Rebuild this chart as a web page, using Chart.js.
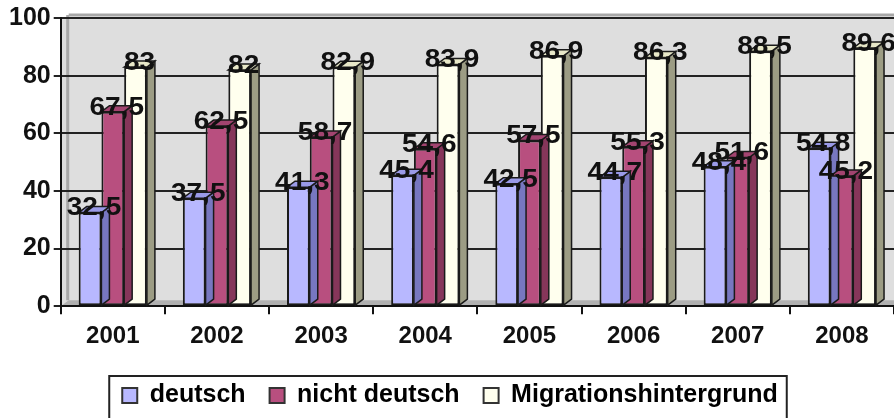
<!DOCTYPE html>
<html>
<head>
<meta charset="utf-8">
<script src="https://cdn.jsdelivr.net/npm/chart.js@4/dist/chart.umd.min.js"></script>
<style>
  html, body { margin: 0; padding: 0; background: #fff; overflow: hidden; }
  #wrap { width: 894px; height: 418px; }
</style>
</head>
<body>
<div id="wrap"><canvas id="myChart" width="894" height="418"></canvas></div>
<script>
const years = ["2001", "2002", "2003", "2004", "2005", "2006", "2007", "2008"];
const deutsch = [32.5, 37.5, 41.3, 45.4, 42.5, 44.7, 48.4, 54.8];
const nichtDeutsch = [67.5, 62.5, 58.7, 54.6, 57.5, 55.3, 51.6, 45.2];
const migration = [83, 82, 82.9, 83.9, 86.9, 86.3, 88.5, 89.6];
const yTicks = [0, 20, 40, 60, 80, 100];

const fontFam = "Arial, 'Liberation Sans', sans-serif";
const sideColors = ["#7777c0", "#86365a", "#9c9c84"];
const topColors = ["#9a9ae8", "#a24470", "#e8e8c8"];

// back wall + floor behind the bars
const wallPlugin = {
  id: "wall",
  beforeDraw(chart) {
    const { ctx, chartArea: a } = chart;
    ctx.save();
    ctx.fillStyle = "#dedede";
    ctx.fillRect(a.left, a.top, a.right - a.left, a.bottom - a.top);
    ctx.strokeStyle = "#a8a8a8";
    ctx.lineWidth = 3;
    ctx.beginPath();
    ctx.moveTo(a.left + 8, a.top - 3);
    ctx.lineTo(a.right, a.top - 3);
    ctx.moveTo(a.left + 7, a.top - 3);
    ctx.lineTo(a.left + 7, a.bottom - 6);
    ctx.stroke();
    ctx.fillStyle = "#b0b0b0";
    ctx.beginPath();
    ctx.moveTo(a.left, a.bottom);
    ctx.lineTo(a.left + 8, a.bottom - 6);
    ctx.lineTo(a.right, a.bottom - 6);
    ctx.lineTo(a.right, a.bottom);
    ctx.closePath();
    ctx.fill();
    ctx.restore();
  }
};

// 3d side and top faces plus value labels
const depthPlugin = {
  id: "depth",
  afterDatasetsDraw(chart) {
    const ctx = chart.ctx;
    const dx = 8, dy = 6;
    ctx.save();
    ctx.lineWidth = 1.5;
    ctx.strokeStyle = "#1a1a1a";
    chart.data.datasets.forEach((ds, i) => {
      chart.getDatasetMeta(i).data.forEach(bar => {
        const l = bar.x - bar.width / 2, r = bar.x + bar.width / 2;
        const t = bar.y, b = bar.base;
        ctx.fillStyle = sideColors[i];
        ctx.beginPath();
        ctx.moveTo(r, t); ctx.lineTo(r + dx, t - dy);
        ctx.lineTo(r + dx, b - dy); ctx.lineTo(r, b);
        ctx.closePath(); ctx.fill(); ctx.stroke();
        ctx.fillStyle = topColors[i];
        ctx.beginPath();
        ctx.moveTo(l, t); ctx.lineTo(l + dx, t - dy);
        ctx.lineTo(r + dx, t - dy); ctx.lineTo(r, t);
        ctx.closePath(); ctx.fill(); ctx.stroke();
      });
    });
    ctx.fillStyle = "#111";
    ctx.font = "bold 25px " + fontFam;
    ctx.textAlign = "center";
    ctx.textBaseline = "middle";
    chart.data.datasets.forEach((ds, i) => {
      chart.getDatasetMeta(i).data.forEach((bar, j) => {
        const txt = String(ds.data[j]).replace(".", ",");
        ctx.save();
        ctx.translate(bar.x + 4, bar.y - 4);
        ctx.scale(1.12, 1);
        ctx.fillText(txt, 0, 0);
        ctx.restore();
      });
    });
    ctx.restore();
  }
};

// frame around legend
const legendBox = {
  id: "legendBox",
  afterDraw(chart) {
    const hb = chart.legend.legendHitBoxes;
    if (!hb || !hb.length) return;
    const ctx = chart.ctx;
    const first = hb[0], last = hb[hb.length - 1];
    ctx.save();
    ctx.strokeStyle = "#222";
    ctx.lineWidth = 2;
    ctx.strokeRect(first.left - 13, first.top - 7, last.left + last.width - first.left + 22, 60);
    ctx.restore();
  }
};

const chart = new Chart(document.getElementById("myChart"), {
  type: "bar",
  data: {
    labels: years,
    datasets: [
      { label: "deutsch", data: deutsch, backgroundColor: "#b8b8ff" },
      { label: "nicht deutsch", data: nichtDeutsch, backgroundColor: "#b84f7f" },
      { label: "Migrationshintergrund", data: migration, backgroundColor: "#ffffee" }
    ].map(d => ({ ...d, borderColor: "#1a1a1a", borderWidth: 2, borderSkipped: false,
                  categoryPercentage: 0.655, barPercentage: 1 }))
  },
  options: {
    responsive: false,
    animation: false,
    layout: { padding: { top: 12, right: 0, left: 6, bottom: 0 } },
    plugins: {
      tooltip: { enabled: false },
      legend: {
        position: "bottom",
        labels: {
          color: "#111",
          font: { family: fontFam, size: 25, weight: "bold" },
          boxWidth: 15, boxHeight: 15,
          padding: 24,
          generateLabels(ch) {
            return ch.data.datasets.map((d, i) => ({
              text: d.label, fillStyle: d.backgroundColor, strokeStyle: "#333",
              lineWidth: 2, datasetIndex: i
            }));
          }
        }
      }
    },
    scales: {
      x: {
        grid: { drawOnChartArea: false, drawTicks: true, tickLength: 8, color: "#111", lineWidth: 2, offset: true },
        border: { color: "#111", width: 2 },
        ticks: { color: "#111", font: { family: fontFam, size: 24, weight: "bold" }, padding: 8 }
      },
      y: {
        min: 0, max: 100,
        afterBuildTicks(s) { s.ticks = yTicks.map(v => ({ value: v })); },
        grid: { color: "#222", lineWidth: 2, tickLength: 7 },
        border: { color: "#111", width: 2 },
        ticks: { color: "#111", font: { family: fontFam, size: 25, weight: "bold" }, padding: 3 }
      }
    }
  },
  plugins: [wallPlugin, depthPlugin, legendBox]
});
</script>
</body>
</html>
